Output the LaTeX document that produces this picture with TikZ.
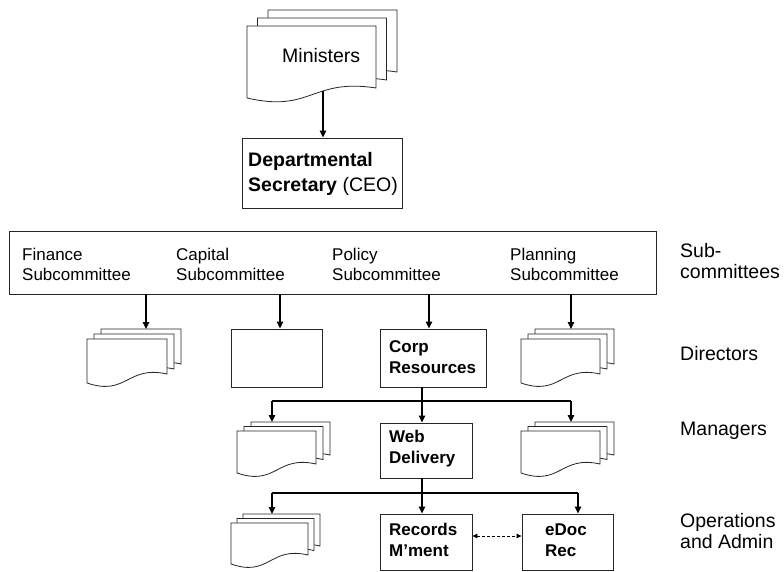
\documentclass[tikz,border=0pt]{standalone}
\usepackage{fontspec}
\setmainfont{Liberation Sans}
\usetikzlibrary{arrows.meta}
\newcommand\docpage[5]{% x y w hl a
  \filldraw[docline] (#1,#2) -- ({#1+#3},#2) -- ({#1+#3},{#2+#4-#5})
    .. controls ({#1+0.5*#3},{#2+#4-2*#5}) and ({#1+0.5*#3},{#2+#4+1.5*#5}) .. (#1,{#2+#4}) -- cycle;}
\newcommand\multidoc[7]{% x y w hl a dx dy
  \docpage{#1+2*#6}{#2-2*#7}{#3}{#4}{#5}
  \docpage{#1+#6}{#2-#7}{#3}{#4}{#5}
  \docpage{#1}{#2}{#3}{#4}{#5}}
\newcommand\twoline[2]{\begin{tabular}[t]{@{}l@{}}#1\\#2\end{tabular}}
\newcommand\fsub{\fontsize{17bp}{20bp}\selectfont}
\newcommand\fside{\fontsize{19.5bp}{21bp}\selectfont}
\newcommand\fbx{\fontsize{17bp}{21bp}\selectfont\bfseries}
\tikzset{
  docline/.style={draw=black!85, fill=white, line width=0.8bp},
  box/.style={draw=black!85, line width=0.9bp, fill=white},
  arr/.style={line width=1.4bp, -{Triangle[length=7bp,width=6.5bp]}},
  conn/.style={line width=1.3bp},
  lbl/.style={anchor=base west, inner sep=0pt},
}
\begin{document}
\begin{tikzpicture}[x=1bp,y=-1bp]
\useasboundingbox (0,0) rectangle (784,572);
% Ministers
\multidoc{247}{26}{129}{72}{10}{10.5}{8}
\node[lbl, font=\fside] (min) at (282,63) {Ministers};
\coordinate (minB) at (323,91);
% Departmental Secretary
\node[box, inner sep=0, minimum width=160bp, minimum height=70bp] (dept) at (322,173) {};
\node[lbl, font=\fontsize{19.5bp}{25bp}\selectfont] (deptT) at (248,167) {\twoline{\textbf{Departmental}}{\textbf{Secretary} (CEO)}};
\draw[arr] (minB) -- (minB |- dept.north);
% Subcommittee box
\node[box, inner sep=0, minimum width=647bp, minimum height=63bp] (sub) at (332.5,262.5) {};
\node[lbl, font=\fsub] (fin) at (22,260) {\twoline{Finance}{Subcommittee}};
\node[lbl, font=\fsub] (cap) at (176,260) {\twoline{Capital}{Subcommittee}};
\node[lbl, font=\fsub] (pol) at (332,260) {\twoline{Policy}{Subcommittee}};
\node[lbl, font=\fsub] (pla) at (510,260) {\twoline{Planning}{Subcommittee}};
% side labels
\node[lbl, font=\fside] (sidesub) at (680,257) {\twoline{Sub-}{committees}};
\node[lbl, font=\fside] (sidedir) at (680,360) {Directors};
\node[lbl, font=\fside] (sideman) at (680,435) {Managers};
\node[lbl, font=\fside] (sideops) at (680,527) {\twoline{Operations}{and Admin}};
% Directors row
\multidoc{87}{339}{80}{44}{9}{7}{5}
\coordinate (finD) at (146,329);
\node[box, inner sep=0, minimum width=91bp, minimum height=58bp] (capD) at (276.5,358) {};
\node[box, inner sep=0, minimum width=106bp, minimum height=58bp] (corp) at (433,358) {};
\node[lbl, font=\fbx] (corpT) at (389,352) {\twoline{Corp}{Resources}};
\multidoc{521}{339}{79}{44}{9}{7}{5}
\coordinate (plaD) at (571,329);
\coordinate (capX) at (280,0);
\coordinate (corpX) at (429,0);
\draw[arr] (sub.south -| finD) -- (finD);
\draw[arr] (sub.south -| capX) -- (capD.north -| capX);
\draw[arr] (sub.south -| corpX) -- (corp.north -| corpX);
\draw[arr] (sub.south -| plaD) -- (plaD);
% Managers row
\multidoc{237}{431}{79}{42}{9}{7}{4.5}
\coordinate (manL) at (272,422);
\node[box, inner sep=0, minimum width=92bp, minimum height=55bp] (web) at (426,450.5) {};
\node[lbl, font=\fbx] (webT) at (389,442) {\twoline{Web}{Delivery}};
\multidoc{521}{431}{79}{42}{9}{7}{4.5}
\coordinate (manR) at (571,422);
\coordinate (h1) at (422,401);
\draw[arr] (corp.south -| h1) -- (web.north -| h1);
\draw[conn] (h1 -| manL) -- (h1 -| manR);
\draw[arr] (h1 -| manL) -- (manL);
\draw[arr] (h1 -| manR) -- (manR);
% Operations row
\multidoc{231}{523}{77}{41}{9}{6}{4.5}
\coordinate (opsL) at (272,514);
\node[box, inner sep=0, minimum width=92bp, minimum height=56bp] (rec) at (426,542) {};
\node[lbl, font=\fbx] (recT) at (389,535) {\twoline{Records}{M’ment}};
\node[box, inner sep=0, minimum width=91bp, minimum height=56bp] (edoc) at (567.5,542) {};
\node[lbl, font=\fbx] (edocT) at (545,535) {\twoline{eDoc}{Rec}};
\coordinate (h2) at (422,493);
\coordinate (edX) at (578,0);
\draw[arr] (web.south -| h2) -- (rec.north -| h2);
\draw[conn] (h2 -| opsL) -- (h2 -| edX);
\draw[arr] (h2 -| opsL) -- (opsL);
\draw[arr] (h2 -| edX) -- (edoc.north -| edX);
\draw[line width=0.8bp, dash pattern=on 3bp off 2bp, {Triangle[length=5bp,width=4.5bp]}-{Triangle[length=5bp,width=4.5bp]}] ([yshift=6bp]rec.east) -- ([yshift=6bp]edoc.west);
\end{tikzpicture}
\end{document}
